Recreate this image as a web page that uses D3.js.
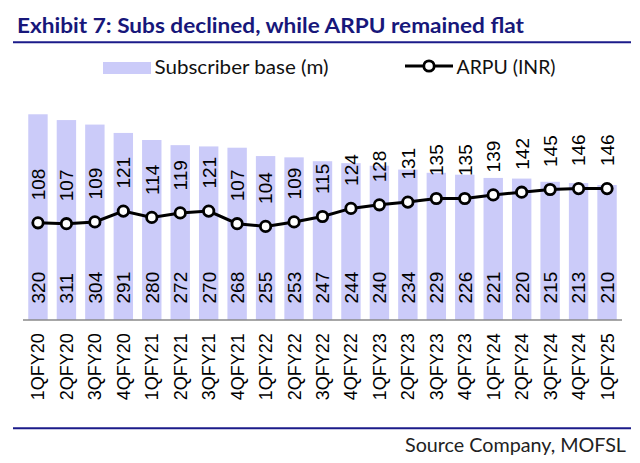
<!DOCTYPE html>
<html>
<head>
<meta charset="utf-8">
<script src="https://cdn.jsdelivr.net/npm/d3@7"></script>
<style>
html, body { margin: 0; padding: 0; background: #fff; }
svg { display: block; }
</style>
</head>
<body>
<svg id="chart" width="640" height="463"></svg>
<script>
const categories = ["1QFY20","2QFY20","3QFY20","4QFY20","1QFY21","2QFY21","3QFY21","4QFY21","1QFY22","2QFY22","3QFY22","4QFY22","1QFY23","2QFY23","3QFY23","4QFY23","1QFY24","2QFY24","3QFY24","4QFY24","1QFY25"];
const subscribers = [320,311,304,291,280,272,270,268,255,253,247,244,240,234,229,226,221,220,215,213,210];
const arpu = [108,107,109,121,114,119,121,107,104,109,115,124,128,131,135,135,139,142,145,146,146];
const titleText = "Exhibit 7: Subs declined, while ARPU remained flat";
const legendLabels = ["Subscriber base (m)", "ARPU (INR)"];
const sourceText = "Source Company, MOFSL";

const svg = d3.select("#chart");
const navy = "#1b1b8a";
const barColor = "#cbcbf9";
const labelFont = "'Liberation Sans', Arial, sans-serif";
const textFont = "Lato, 'Open Sans', sans-serif";

// Title
svg.append("text")
  .attr("x", 17).attr("y", 33)
  .attr("font-family", textFont).attr("font-weight", "bold")
  .attr("font-size", 21).attr("fill", "#17177a")
  .attr("textLength", 507).attr("lengthAdjust", "spacingAndGlyphs")
  .text(titleText);
svg.append("line")
  .attr("x1", 13).attr("x2", 631).attr("y1", 42.3).attr("y2", 42.3)
  .attr("stroke", navy).attr("stroke-width", 2);

// Legend
svg.append("rect").attr("x", 103).attr("y", 62).attr("width", 48).attr("height", 12).attr("fill", barColor);
svg.append("text")
  .attr("x", 154.5).attr("y", 74)
  .attr("font-family", textFont).attr("font-size", 20).attr("fill", "#111")
  .attr("textLength", 174).attr("lengthAdjust", "spacingAndGlyphs")
  .text(legendLabels[0]);
svg.append("line").attr("x1", 405).attr("x2", 453).attr("y1", 66).attr("y2", 66)
  .attr("stroke", "#000").attr("stroke-width", 3);
svg.append("circle").attr("cx", 429).attr("cy", 66).attr("r", 5.2)
  .attr("fill", "#fff").attr("stroke", "#000").attr("stroke-width", 2.8);
svg.append("text")
  .attr("x", 456.5).attr("y", 74)
  .attr("font-family", textFont).attr("font-size", 20).attr("fill", "#111")
  .attr("textLength", 99).attr("lengthAdjust", "spacingAndGlyphs")
  .text(legendLabels[1]);

// Scales
const x = d3.scaleBand().domain(categories).range([23, 622])
  .paddingInner(0.318).paddingOuter(0.185);
const yL = d3.scaleLinear().domain([0, 350]).range([320, 95]);
const yR = d3.scaleLinear().domain([0, 250]).range([320, 95]);

// Bars
svg.append("g").selectAll("rect").data(subscribers).join("rect")
  .attr("x", (d, i) => x(categories[i]))
  .attr("y", d => yL(d))
  .attr("width", x.bandwidth())
  .attr("height", d => yL(0) - yL(d))
  .attr("fill", barColor);

// Subscriber labels (inside bars, bottom)
svg.append("g").selectAll("text").data(subscribers).join("text")
  .attr("transform", (d, i) => `translate(${x(categories[i]) + x.bandwidth() / 2},303.5) rotate(-90)`)
  .attr("dy", "0.36em")
  .attr("font-family", labelFont).attr("font-size", 19).attr("fill", "#000")
  .attr("text-anchor", "start")
  .text(d => d);

// X axis
const xAxis = svg.append("g").attr("transform", "translate(0,320)")
  .call(d3.axisBottom(x).tickSize(0).tickSizeOuter(0));
xAxis.select(".domain").attr("stroke", "#8a8a8a").attr("stroke-width", 1.5)
  .attr("d", "M23,0H622");
xAxis.selectAll(".tick text")
  .attr("font-family", labelFont).attr("font-size", 18).attr("fill", "#000")
  .attr("text-anchor", "end")
  .attr("transform", "translate(0,13.3) rotate(-90)")
  .attr("x", 0).attr("y", 0).attr("dy", "0.36em");

// ARPU line
const line = d3.line()
  .x((d, i) => x(categories[i]) + x.bandwidth() / 2)
  .y(d => yR(d));
svg.append("path").datum(arpu).attr("d", line)
  .attr("fill", "none").attr("stroke", "#000").attr("stroke-width", 3);
svg.append("g").selectAll("circle").data(arpu).join("circle")
  .attr("cx", (d, i) => x(categories[i]) + x.bandwidth() / 2)
  .attr("cy", d => yR(d))
  .attr("r", 5.2)
  .attr("fill", "#fff").attr("stroke", "#000").attr("stroke-width", 2.8);

// ARPU labels
svg.append("g").selectAll("text").data(arpu).join("text")
  .attr("transform", (d, i) => `translate(${x(categories[i]) + x.bandwidth() / 2},${yR(d) - 22.5}) rotate(-90)`)
  .attr("dy", "0.36em")
  .attr("font-family", labelFont).attr("font-size", 19).attr("fill", "#000")
  .attr("text-anchor", "start")
  .text(d => d);

// Footer
svg.append("line")
  .attr("x1", 13).attr("x2", 631).attr("y1", 428.3).attr("y2", 428.3)
  .attr("stroke", navy).attr("stroke-width", 2);
svg.append("text")
  .attr("x", 626).attr("y", 451.5)
  .attr("text-anchor", "end")
  .attr("font-family", textFont).attr("font-size", 20).attr("fill", "#222")
  .attr("textLength", 221).attr("lengthAdjust", "spacingAndGlyphs")
  .text(sourceText);
</script>
</body>
</html>
